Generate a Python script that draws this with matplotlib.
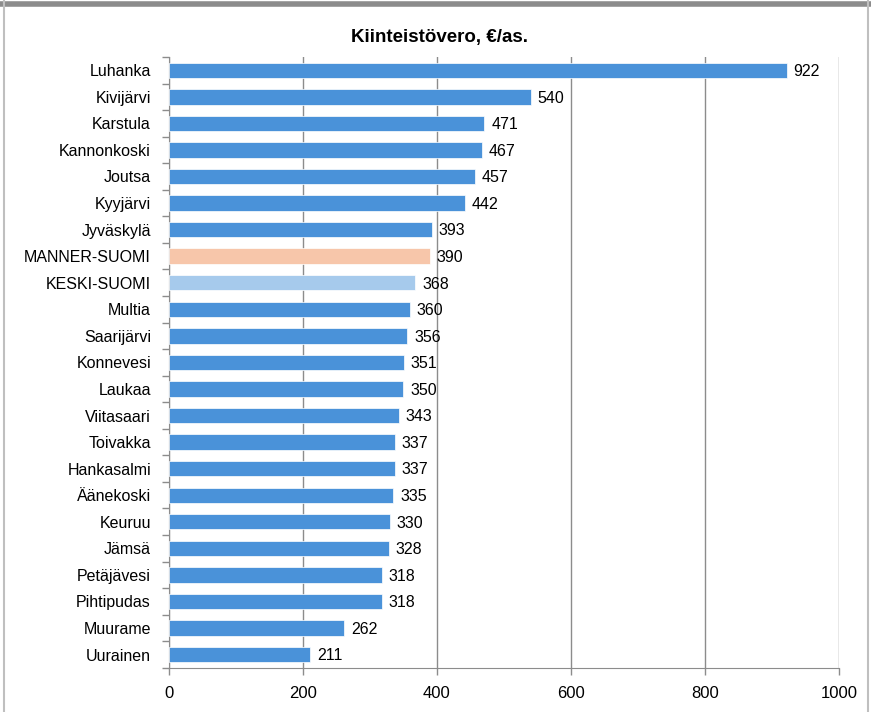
import matplotlib.pyplot as plt
from matplotlib.lines import Line2D
import numpy as np

kunnat = ['Luhanka', 'Kivijärvi', 'Karstula', 'Kannonkoski', 'Joutsa', 'Kyyjärvi',
          'Jyväskylä', 'MANNER-SUOMI', 'KESKI-SUOMI', 'Multia', 'Saarijärvi',
          'Konnevesi', 'Laukaa', 'Viitasaari', 'Toivakka', 'Hankasalmi',
          'Äänekoski', 'Keuruu', 'Jämsä', 'Petäjävesi', 'Pihtipudas',
          'Muurame', 'Uurainen']
vero = [922, 540, 471, 467, 457, 442, 393, 390, 368, 360, 356, 351, 350,
        343, 337, 337, 335, 330, 328, 318, 318, 262, 211]

plt.rcParams['font.family'] = ['Liberation Sans Narrow', 'Liberation Sans', 'DejaVu Sans']

colors = []
for k in kunnat:
    if k == 'MANNER-SUOMI':
        colors.append('#f7c6aa')
    elif k == 'KESKI-SUOMI':
        colors.append('#a6caec')
    else:
        colors.append('#4a92d9')

fig = plt.figure(figsize=(8.71, 7.12), dpi=100)
ax = fig.add_axes([0.194, 0.062, 0.769, 0.858])

y = np.arange(len(kunnat))
ax.barh(y, vero, height=0.58, color=colors, edgecolor='white', linewidth=0.5, zorder=3)
for yi, v in zip(y, vero):
    ax.text(v + 10, yi + 0.05, str(v), va='center', ha='left', fontsize=11.5, color='#000000', zorder=4)

ax.set_xlim(0, 1000)
ax.set_ylim(len(kunnat) - 0.5, -0.5)
ax.set_xticks([0, 200, 400, 600, 800, 1000])
ax.set_yticks(y)
ax.set_yticklabels(kunnat, fontsize=11.5)
ax.set_yticks(np.arange(-0.5, len(kunnat), 1), minor=True)
ax.tick_params(axis='y', which='major', length=0, pad=13)
ax.tick_params(axis='y', which='minor', length=5, color='#8c8c8c', width=1)
ax.tick_params(axis='x', length=5, color='#8c8c8c', width=1, labelsize=12, pad=8)
ax.grid(axis='x', color='#8c8c8c', linewidth=1, zorder=0)
for s in ['top', 'right']:
    ax.spines[s].set_visible(False)
ax.spines['left'].set_color('#8c8c8c')
ax.spines['bottom'].set_color('#8c8c8c')
fig.text(0.505, 0.948, 'Kiinteistövero, €/as.', fontsize=13.5, fontweight='bold', ha='center', va='center')

# outer frame like the original screenshot
fig.add_artist(Line2D([0, 1], [0.9945, 0.9945], transform=fig.transFigure, color='#8c8c8c', linewidth=4))
fig.add_artist(Line2D([0.005, 0.005], [0, 1], transform=fig.transFigure, color='#bfbfbf', linewidth=1.5))
fig.add_artist(Line2D([0.997, 0.997], [0, 1], transform=fig.transFigure, color='#bfbfbf', linewidth=1.5))

fig.savefig('out.png', dpi=100)
